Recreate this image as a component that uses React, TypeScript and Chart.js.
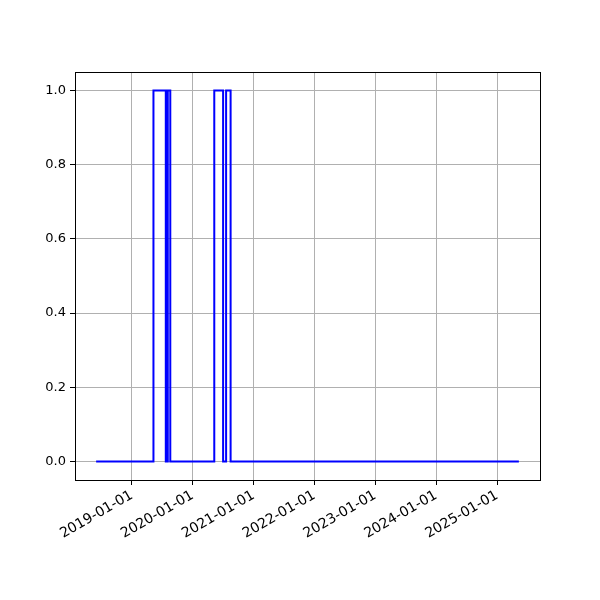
import React, { useEffect, useRef } from "react";
import { Chart, registerables } from "chart.js";

Chart.register(...registerables);

const dates = [
  "2018-06-01",
  "2019-05-11",
  "2019-07-24",
  "2019-08-05",
  "2019-08-20",
  "2020-05-10",
  "2020-07-02",
  "2020-07-20",
  "2020-08-16",
  "2025-05-12",
];
const values = [0, 1, 0, 1, 0, 1, 0, 1, 0, 0];
const xTickYears = [2019, 2020, 2021, 2022, 2023, 2024, 2025];
const yTicks = [0, 0.2, 0.4, 0.6, 0.8, 1.0];

const toMs = (s: string) => Date.parse(s + "T00:00:00Z");

export default function App() {
  const ref = useRef<HTMLCanvasElement | null>(null);

  useEffect(() => {
    document.body.style.margin = "0";
    const canvas = ref.current;
    if (!canvas) return;
    const xs = dates.map(toMs);
    const xMinData = Math.min(...xs);
    const xMaxData = Math.max(...xs);
    const span = xMaxData - xMinData;
    const data = xs.map((x, i) => ({ x, y: values[i] }));

    const framePlugin = {
      id: "frame",
      afterDraw(chart: any) {
        const { ctx, chartArea } = chart;
        ctx.save();
        ctx.strokeStyle = "#000";
        ctx.lineWidth = 1;
        ctx.strokeRect(
          Math.round(chartArea.left) + 0.5,
          Math.round(chartArea.top) + 0.5,
          Math.round(chartArea.right - chartArea.left),
          Math.round(chartArea.bottom - chartArea.top)
        );
        ctx.restore();
      },
    };

    const font = { family: "DejaVu Sans", size: 13 };
    const xFont = { family: "DejaVu Sans", size: 14 };

    const chart = new Chart(canvas, {
      type: "line",
      data: {
        datasets: [
          {
            data,
            borderColor: "#0000ff",
            borderWidth: 2,
            pointRadius: 0,
            stepped: "before",
            fill: false,
          },
        ],
      },
      options: {
        animation: false,
        responsive: false,
        maintainAspectRatio: false,
        layout: { padding: { left: 0, top: 72, right: 60, bottom: 0 } },
        plugins: { legend: { display: false }, tooltip: { enabled: false } },
        scales: {
          x: {
            type: "linear",
            min: xMinData - 0.05 * span,
            max: xMaxData + 0.05 * span,
            afterBuildTicks: (scale: any) => {
              scale.ticks = xTickYears.map((y) => ({ value: Date.UTC(y, 0, 1) }));
            },
            afterFit: (scale: any) => {
              scale.height = 120;
            },
            ticks: {
              autoSkip: false,
              minRotation: 30,
              maxRotation: 30,
              color: "#000",
              font: xFont,
              padding: 2,
              callback: (v: any) => {
                const d = new Date(Number(v));
                return `${d.getUTCFullYear()}-01-01`;
              },
            },
            grid: {
              color: "#b0b0b0",
              lineWidth: 1,
              tickColor: "#000",
              tickLength: 5,
              drawTicks: true,
            },
            border: { display: true, color: "#000", width: 1 },
          },
          y: {
            type: "linear",
            min: -0.05,
            max: 1.05,
            afterBuildTicks: (scale: any) => {
              scale.ticks = yTicks.map((v) => ({ value: v }));
            },
            afterFit: (scale: any) => {
              scale.width = 75;
            },
            ticks: {
              color: "#000",
              font,
              padding: 4,
              callback: (v: any) => Number(v).toFixed(1),
            },
            grid: {
              color: "#b0b0b0",
              lineWidth: 1,
              tickColor: "#000",
              tickLength: 5,
            },
            border: { display: true, color: "#000", width: 1 },
          },
        },
      },
      plugins: [framePlugin],
    } as any);
    return () => chart.destroy();
  }, []);

  return <canvas ref={ref} width={600} height={600} style={{ display: "block" }} />;
}
